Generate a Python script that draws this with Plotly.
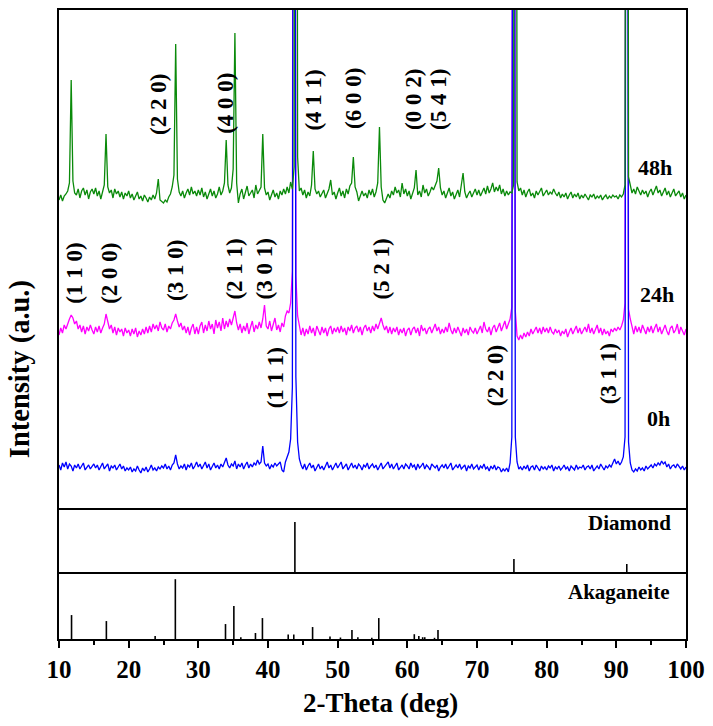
import plotly.graph_objects as go

# ---------------- data ----------------
X_START = 10.0
X_STEP = 0.25
N_POINTS = 361
two_theta = [X_START + X_STEP * i for i in range(N_POINTS)]  # 10 .. 100 deg sampling

# vertical stacking offsets of the three patterns (a.u.)
offset_0h = 41
offset_24h = 177
offset_48h = 311

# intensity above each pattern's baseline, one value per 0.25 deg (rows = 5 deg)
dev_48h = [
    -3, 2, -4, 1, 3, 6, 14, 117, 16, 4, 2, 8, -1, 6, 9, 2, 7, -2, 5, 8,
    3, 9, 1, 6, -2, 5, 12, 63, 10, 4, 7, -1, 8, 3, 6, 0, 5, -2, 4, 1,
    6, -1, 3, -3, 2, 5, -2, 1, -4, 2, -1, -5, 0, -3, 2, -2, 4, 18, -3, -5,
    -6, -3, -5, 0, 3, 10, 22, 153, 18, 5, 1, 6, -1, 4, 8, 2, 10, 3, 6, 1,
    7, 2, 9, 0, 5, -2, 4, 8, 1, 6, -1, 3, 10, 2, 6, 14, 57, 12, 4, 9,
    28, 164, 14, -6, 3, 8, -2, 5, 11, 1, 4, 7, -1, 12, 3, 6, 10, 63, 9, 2,
    5, -3, 3, 7, 0, 4, -2, 6, 2, 8, 3, 10, 4, 15, 8, 30, 1500, 40, 6, 9,
    2, 7, -1, 5, 1, 12, 46, 8, 3, 6, 0, 4, 7, -1, 3, 8, 17, 2, 5, -2,
    4, 9, 1, 6, -1, 8, 3, 11, 14, 40, 10, 5, -4, 2, 6, 1, 4, -1, 7, 2,
    8, 0, 5, 14, 70, 10, -3, -6, -2, 3, -1, 6, 2, 10, 4, 7, 0, 14, 3, 8,
    1, 6, -2, 4, 9, 27, 2, 6, 0, 12, 4, 8, 1, 5, 10, 7, 12, 16, 29, 9,
    2, 6, -1, 4, 9, 1, 5, -2, 3, 7, 0, 10, 24, 5, -1, 3, 6, 0, 4, 8,
    2, 7, 1, 5, 9, 3, 11, 4, 8, 14, 5, 10, 6, 12, 3, 8, 1, 6, 2, 5,
    4, 12, 1500, 15, 6, 9, 2, 7, 0, 5, 8, 1, 4, -1, 6, 2, 5, 9, 1, 4,
    7, 2, 5, 3, 8, 4, 1, 5, -1, 3, 0, 4, -2, 2, 5, -1, 3, 0, 4, -2,
    2, -1, 3, 0, -3, 2, 0, 3, -2, 1, -1, 2, -3, 0, 2, -2, 1, -1, 2, 0,
    1, -2, 2, 0, 3, 12, 1500, 20, 10, 4, 8, 3, 10, 5, 2, 7, 3, 6, 0, 5,
    8, 2, 6, 11, 4, 7, 1, 5, 9, 2, 6, 0, 4, 8, 1, 3, 6, 0, 4, -2,
    2,
]

dev_24h = [
    -4, 3, -2, 6, 2, 8, 12, 16, 13, 7, 10, 2, 6, -1, 5, -3, 4, 0, 6, 1,
    -3, 4, -1, 5, -2, 3, 7, 17, 9, 2, 6, -2, 4, -4, 3, -1, 2, -5, 3, -2,
    1, -5, 2, -3, 3, -6, 0, -4, 2, -3, 4, -2, 5, -1, 7, 2, 6, 0, 9, 3,
    1, 7, -1, 5, 2, 8, 11, 17, 10, 4, 8, 1, 5, -2, 4, -4, 3, 7, -3, 4,
    -3, 5, 9, -2, 6, 0, 10, 2, 7, -3, 11, 3, 9, 0, 13, 2, 10, 4, 12, 6,
    13, 20, 8, 1, 7, -2, 5, 0, 8, -3, 4, 10, -1, 6, 2, 9, 3, 12, 26, 5,
    2, 10, 0, 7, 13, 1, 6, -1, 8, 4, 15, 20, 18, 28, 60, 1500, 55, 15, 3, -4,
    3, -5, 2, -3, 5, -2, 3, -5, 5, 0, -4, 4, -2, 3, -5, 2, 5, -3, 3, -1,
    4, -2, 5, -1, 3, -4, 4, 0, 6, -2, 3, 5, -1, 4, -4, 3, 6, 0, 4, -2,
    5, 0, 7, 2, 9, 13, 6, 1, 5, -2, 4, -3, 3, -1, 4, -4, 2, -2, 3, -5,
    1, 3, -4, 2, 4, -2, 3, -5, 6, 0, 3, -3, 2, 4, -2, 3, 7, 0, 4, -3,
    2, -2, 4, -1, 8, 1, -3, 3, -2, 4, -1, -5, 3, -2, 2, -4, 4, 0, -2, 3,
    -3, 2, 5, -2, 9, 2, -1, 4, -4, 3, 6, -1, 4, 8, 0, 5, 10, 2, 7, 12,
    24, 1500, 20, -5, -9, -4, -8, -2, -6, -1, -5, 2, -3, 1, 4, -2, 3, -3, 4, -1,
    3, -2, 4, -1, -3, 2, -2, 1, -5, 0, -3, 2, -6, -1, 3, -3, 1, 5, -2, 3,
    -3, 1, 4, -1, 7, -2, 3, -3, 1, 6, -2, 3, -4, 2, -3, 0, -5, 2, -1, 3,
    0, 4, 1, 5, 11, 28, 1500, 22, 12, 3, -3, 5, -1, 4, -2, 6, 1, -3, 4, -1,
    5, -2, 3, 7, -1, 4, -3, 2, 6, 0, -4, 3, 5, -2, 1, 7, -3, 4, -1, -4,
    2,
]

dev_0h = [
    2, -3, 4, 0, 5, -2, 3, 1, -4, 2, -1, 3, -2, 1, 4, -3, 0, 2, -2, 1,
    3, -1, 2, -3, 1, 4, -2, 0, 3, -4, 1, -1, 2, -3, 0, 3, -2, 1, -4, -1,
    -3, 0, -5, -2, -4, 1, -3, -6, -1, -4, 0, -5, -2, 2, -3, -1, -4, 0, -2, 1,
    -1, 3, -2, 1, -3, 2, 4, 12, 3, -2, 1, -1, 3, -3, 2, 0, 4, -2, 1, 5,
    0, 3, -2, 2, 5, -1, 3, -3, 1, 4, -1, 2, -2, 3, 0, 5, 9, 2, -1, 3,
    1, 6, -2, 3, 0, 4, -2, 2, 5, -1, 3, 0, 4, 2, 7, 3, 5, 21, 4, 1,
    3, -2, 2, 0, 4, 1, 3, 5, -3, -5, 5, 10, 15, 28, 80, 1500, 90, 25, 8, 2,
    -2, 3, -3, 1, 4, -1, 2, -4, 0, 3, -2, 1, -3, 2, 5, -1, 2, -3, 1, 4,
    -1, 2, 5, -2, 1, 3, -3, 0, 4, -1, 2, -2, 3, 1, -3, 2, 0, 4, -2, 1,
    3, -1, 2, -3, 1, 4, -2, 0, 2, 5, -1, 3, -2, 1, 4, -3, 0, 2, -2, 3,
    1, -2, 4, 0, 2, -3, 3, -1, 1, 4, -2, 2, 0, -3, 3, 1, -1, 2, -4, 0,
    2, -1, 3, -2, 1, 4, -3, 0, 2, -1, 3, -2, 0, 2, -4, 1, -1, 3, -2, 0,
    2, -3, 1, -1, 3, -2, 0, -4, 1, -2, 2, -3, 0, -1, -5, -2, -4, -1, -5, 4,
    30, 1500, 30, 5, -2, 0, -3, 1, -2, 2, -4, 0, 1, -3, 2, -1, -4, 1, -2, 0,
    -3, 1, -1, 2, -4, 0, -2, 1, -3, -1, 2, -2, 0, -4, 1, -1, -3, 2, -2, 0,
    -1, 2, -3, 0, 1, -2, 2, -4, -1, 1, -2, 3, 0, -3, 1, -1, 2, 0, 4, 8,
    3, 6, 2, 5, 10, 30, 1500, 25, 4, -3, -5, -2, -4, 0, -3, -1, -4, 1, -2, 0,
    2, -1, 3, 1, 4, 2, 6, 3, 5, 0, 3, -2, 1, 2, -1, 3, 0, -2, 1, -3,
    0,
]

# reference stick patterns
diamond_pos = [43.86, 75.3, 91.5]
diamond_int = [100, 26, 16]

akaganeite_pos = [11.8, 16.8, 23.8, 26.7, 33.9, 35.1, 36.1, 38.2, 39.2, 42.9, 43.7,
                  46.4, 48.9, 50.4, 52.05, 52.9, 54.9, 55.9, 61.0, 61.65, 62.2, 62.5,
                  63.9, 64.4]
akaganeite_int = [40, 30, 5, 100, 25, 55, 3, 10, 35, 7.5, 7.5,
                  20, 4, 2.5, 15, 3, 2, 35, 8, 5, 3, 3,
                  2, 15]

tick_vals = [10, 20, 30, 40, 50, 60, 70, 80, 90, 100]
tick_text = ["10", "20", "30", "40", "50", "60", "70", "80", "90", "100"]

labels_48h = ["(2 2 0)", "(4 0 0)", "(4 1 1)", "(6 0 0)", "(0 0 2)", "(5 4 1)"]
labels_24h = ["(1 1 0)", "(2 0 0)", "(3 1 0)", "(2 1 1)", "(3 0 1)", "(5 2 1)"]
labels_0h = ["(1 1 1)", "(2 2 0)", "(3 1 1)"]

# ---------------- layout helpers ----------------
label_x_48h = [24.2, 33.8, 46.4, 52.2, 60.8, 64.4]
label_y_48h = [404, 405, 408, 410, 409, 409]
label_x_24h = [12.25, 17.3, 26.8, 35.2, 39.5, 56.3]
label_y_24h = [235, 235, 237, 239, 239, 239]
label_x_0h = [41.2, 72.75, 89.0]
label_y_0h = [130, 132, 134]

assert len(dev_48h) == N_POINTS and len(dev_24h) == N_POINTS and len(dev_0h) == N_POINTS

FONT = "Liberation Serif"
GREEN = "#0a8a0a"
MAGENTA = "#ff00ff"
BLUE = "#0000ff"

y_48h = [offset_48h + d for d in dev_48h]
y_24h = [offset_24h + d for d in dev_24h]
y_0h = [offset_0h + d for d in dev_0h]


def sticks(pos, inten):
    xs, ys = [], []
    for p, h in zip(pos, inten):
        xs += [p, p, None]
        ys += [0, h, None]
    return xs, ys


fig = go.Figure()
fig.add_trace(go.Scatter(x=two_theta, y=y_24h, mode="lines", line=dict(color=MAGENTA, width=1.3),
                         xaxis="x", yaxis="y", showlegend=False))
fig.add_trace(go.Scatter(x=two_theta, y=y_0h, mode="lines", line=dict(color=BLUE, width=1.3),
                         xaxis="x", yaxis="y", showlegend=False))
fig.add_trace(go.Scatter(x=two_theta, y=y_48h, mode="lines", line=dict(color=GREEN, width=1.3),
                         xaxis="x", yaxis="y", showlegend=False))

dx, dy = sticks(diamond_pos, diamond_int)
fig.add_trace(go.Scatter(x=dx, y=dy, mode="lines", line=dict(color="black", width=1.6),
                         xaxis="x2", yaxis="y2", showlegend=False))
ax_, ay_ = sticks(akaganeite_pos, akaganeite_int)
fig.add_trace(go.Scatter(x=ax_, y=ay_, mode="lines", line=dict(color="black", width=1.6),
                         xaxis="x3", yaxis="y3", showlegend=False))

common = dict(linecolor="black", linewidth=1.6, showgrid=False, zeroline=False, automargin=False)

fig.update_layout(
    width=713, height=726,
    margin=dict(l=59, r=27, t=10, b=87),
    paper_bgcolor="white", plot_bgcolor="white",
    xaxis=dict(**common, showline=True, mirror=True, range=[10, 100], anchor="y",
               showticklabels=False, ticks=""),
    xaxis2=dict(**common, showline=True, mirror=False, range=[10, 100], anchor="y2",
                showticklabels=False, ticks=""),
    xaxis3=dict(**common, showline=True, mirror=False, range=[10, 100], anchor="y3", tickmode="array",
                tickvals=tick_vals, ticktext=tick_text, ticks="outside", ticklen=7,
                tickwidth=1.6, tickcolor="black",
                tickfont=dict(family=FONT, size=25, color="black", weight="bold"),
                minor=dict(dtick=5, ticks="outside", ticklen=4, tickwidth=1.6, tickcolor="black")),
    yaxis=dict(**common, showline=True, mirror=True, domain=[0.2083, 1], range=[0, 498],
               showticklabels=False, ticks=""),
    yaxis2=dict(**common, showline=True, mirror=True, domain=[0.1065, 0.2083], range=[0, 128],
                showticklabels=False, ticks=""),
    yaxis3=dict(**common, showline=True, mirror=True, domain=[0, 0.1065], range=[0, 112],
                showticklabels=False, ticks=""),
)

annots = []
for texts, xs, ys in [(labels_48h, label_x_48h, label_y_48h),
                      (labels_24h, label_x_24h, label_y_24h),
                      (labels_0h, label_x_0h, label_y_0h)]:
    for t, x, y in zip(texts, xs, ys):
        annots.append(dict(text="<b>" + t + "</b>", x=x, y=y, xref="x", yref="y",
                           textangle=-90, showarrow=False, xanchor="center", yanchor="middle",
                           font=dict(family=FONT, size=23, color="black")))

for t, x, y, xr, yr in [("48h", 98.3, 340, "x", "y"), ("24h", 98.6, 213, "x", "y"),
                        ("0h", 98.05, 89, "x", "y"),
                        ("Diamond", 98.1, 98, "x2", "y2"),
                        ("Akaganeite", 98.0, 78.6, "x3", "y3")]:
    annots.append(dict(text="<b>" + t + "</b>", x=x, y=y, xref=xr, yref=yr, showarrow=False,
                       xanchor="right", yanchor="middle",
                       font=dict(family=FONT, size=22 if t.endswith("h") else 21, color="black")))

annots.append(dict(text="<b>Intensity (a.u.)</b>", x=0, y=0.429, xref="paper", yref="paper",
                   xshift=-39, textangle=-90, showarrow=False, xanchor="center", yanchor="middle",
                   font=dict(family=FONT, size=28.5, color="black")))
annots.append(dict(text="<b>2-Theta (deg)</b>", x=0.512, y=-0.1017, xref="paper", yref="paper",
                   showarrow=False, xanchor="center", yanchor="middle",
                   font=dict(family=FONT, size=27, color="black")))
fig.update_layout(annotations=annots)

fig.write_html("out.html", config={"displayModeBar": False},
               post_script="document.body.style.margin='0px';")
